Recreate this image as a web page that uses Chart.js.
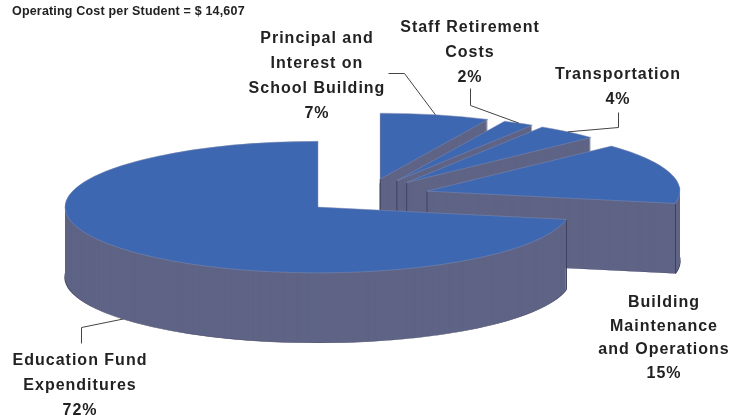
<!DOCTYPE html>
<html><head><meta charset="utf-8">
<style>html,body{margin:0;padding:0;background:#fff}canvas{display:block}</style>
<script src="https://cdn.jsdelivr.net/npm/chart.js@4"></script>
</head><body>
<canvas id="c" width="747" height="419"></canvas>
<script>
const categories = ["Principal and Interest on School Building","Staff Retirement Costs","Transportation","Building Maintenance and Operations","Education Fund Expenditures"];
const shares = [7,2,4,15,72];
const labelLines = [
  ["Principal and","Interest on","School Building","7%"],
  ["Staff Retirement","Costs","2%"],
  ["Transportation","4%"],
  ["Building","Maintenance","and Operations","15%"],
  ["Education Fund","Expenditures","72%"]
];
const titleText = "Operating Cost per Student = $ 14,607";
const labelCenterX = [317,470,618,664,80];
const labelBaseY = [43,32,79,307,365];
const labelLineStep = [25,25,25,23.7,25];
const leaderElbows = [[[388,73],[404,73]],[[470,88],[470,105]],[[618,112],[618,127]],null,[[81,343],[81,327]]];

const topColor = "#3e67b2", sideColor = "#5f6486", edgeColor = "#3f4260", rimColor = "#7f8bb0";
const PIE_X = 366.5, PIE_Y = 196, SQUASH = 0.26, EXPLODE_SQUASH = 0.277, EXPLODE = 63, DEPTH = 70, RADIUS = 253;

function sliceOrigin(arc){
  const mid = (arc.startAngle + arc.endAngle)/2;
  return {mid, x: PIE_X + Math.cos(mid)*EXPLODE, y: PIE_Y + Math.sin(mid)*EXPLODE*EXPLODE_SQUASH};
}
function drawLayer(ctx, arc, o, drop, bg, bw, bc){
  const saved = arc.options;
  arc.options = Object.assign({}, saved, {backgroundColor:bg, borderWidth:bw, borderColor:bc, offset:0, spacing:0});
  ctx.save();
  ctx.translate(o.x, o.y + drop);
  ctx.scale(1, SQUASH);
  ctx.translate(-arc.x, -arc.y);
  arc.draw(ctx);
  ctx.restore();
  arc.options = saved;
}
function drawEdge(ctx, x, y){
  ctx.beginPath();
  ctx.moveTo(x, y);
  ctx.lineTo(x, y + DEPTH);
  ctx.stroke();
}
const pie3d = {
  id:"pie3d",
  beforeDatasetsDraw(chart){
    const ctx = chart.ctx;
    chart.getDatasetMeta(0).data.forEach(arc=>{
      const o = sliceOrigin(arc);
      drawLayer(ctx, arc, o, DEPTH, sideColor, 1.2, edgeColor);
      for(let d=DEPTH-1; d>0; d--) drawLayer(ctx, arc, o, d, sideColor, 0, sideColor);
      ctx.save();
      ctx.strokeStyle = edgeColor; ctx.lineWidth = 1;
      if(arc.circumference < Math.PI) drawEdge(ctx, o.x, o.y);
      [arc.startAngle, arc.endAngle].forEach(a=>{
        if(Math.sin(a) > 0) drawEdge(ctx, o.x + Math.cos(a)*RADIUS, o.y + Math.sin(a)*RADIUS*SQUASH);
      });
      ctx.restore();
      drawLayer(ctx, arc, o, 0, topColor, 0.8, rimColor);
    });
    return false;
  },
  afterDraw(chart){
    const ctx = chart.ctx;
    ctx.save();
    ctx.strokeStyle = "#444"; ctx.lineWidth = 1;
    chart.getDatasetMeta(0).data.forEach((arc,i)=>{
      const el = leaderElbows[i];
      if(!el) return;
      const o = sliceOrigin(arc);
      const ex = o.x + Math.cos(o.mid)*RADIUS;
      const ey = o.y + Math.sin(o.mid)*RADIUS*SQUASH + (Math.sin(o.mid)>0 ? DEPTH : 0);
      ctx.beginPath();
      ctx.moveTo(el[0][0]+.5, el[0][1]+.5);
      ctx.lineTo(el[1][0]+.5, el[1][1]+.5);
      ctx.lineTo(ex, ey);
      ctx.stroke();
    });
    ctx.fillStyle = "#222";
    ctx.textBaseline = "alphabetic";
    ctx.textAlign = "center";
    ctx.font = 'bold 16px "Liberation Sans", Arial, sans-serif';
    ctx.letterSpacing = "1px";
    labelLines.forEach((lines,i)=>lines.forEach((t,j)=>{
      ctx.fillText(t, labelCenterX[i], labelBaseY[i] + j*labelLineStep[i]);
    }));
    ctx.textAlign = "left";
    ctx.font = 'bold 12.5px "Liberation Sans", Arial, sans-serif';
    ctx.letterSpacing = "0.18px";
    ctx.fillText(titleText, 12, 15);
    ctx.restore();
  }
};
new Chart(document.getElementById("c"),{
  type:"pie",
  data:{labels:categories,datasets:[{data:shares,backgroundColor:topColor,borderWidth:0,clip:false}]},
  options:{
    responsive:false,animation:false,radius:RADIUS,rotation:0,
    layout:{padding:0},
    plugins:{legend:{display:false},tooltip:{enabled:false},title:{display:false}}
  },
  plugins:[pie3d]
});
</script>
</body></html>
